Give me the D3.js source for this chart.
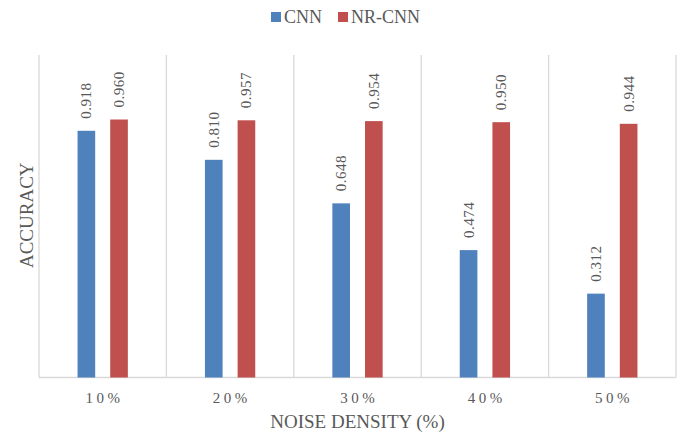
<!DOCTYPE html>
<html>
<head>
<meta charset="utf-8">
<script src="https://cdn.jsdelivr.net/npm/d3@7"></script>
<style>
  html, body { margin: 0; padding: 0; background: #fff; }
  svg { display: block; }
  text { font-family: "Liberation Serif", "Times New Roman", serif; fill: #595959; }
</style>
</head>
<body>
<svg id="chart" width="688" height="435"></svg>
<script>
const categories = ["10%", "20%", "30%", "40%", "50%"];
const seriesNames = ["CNN", "NR-CNN"];
const cnnValues = [0.918, 0.810, 0.648, 0.474, 0.312];
const nrcnnValues = [0.960, 0.957, 0.954, 0.950, 0.944];
const seriesColors = ["#4F81BD", "#C0504D"];

const svg = d3.select("#chart");
const plot = { left: 39, right: 676, top: 55, bottom: 377.5 };

const x = d3.scaleBand().domain(categories).range([plot.left, plot.right]).padding(0);
const xInner = d3.scaleBand().domain(seriesNames)
  .range([0, x.bandwidth()]).paddingInner(0.46).paddingOuter(1.18);
const y = d3.scaleLinear().domain([0, 1.2]).range([plot.bottom, plot.top]);

const data = categories.map((c, i) => ({
  cat: c,
  vals: [
    { s: seriesNames[0], v: cnnValues[i], color: seriesColors[0] },
    { s: seriesNames[1], v: nrcnnValues[i], color: seriesColors[1] }
  ]
}));

// vertical category separators
const edges = categories.map(c => x(c)).concat([plot.right]);
svg.append("g").selectAll("line").data(edges).join("line")
  .attr("x1", d => d).attr("x2", d => d)
  .attr("y1", plot.top).attr("y2", plot.bottom)
  .attr("stroke", "#d9d9d9").attr("stroke-width", 1.3);

// baseline
svg.append("line")
  .attr("x1", plot.left).attr("x2", plot.right)
  .attr("y1", plot.bottom).attr("y2", plot.bottom)
  .attr("stroke", "#d9d9d9").attr("stroke-width", 1.5);

// bars and value labels
const groups = svg.append("g").selectAll("g").data(data).join("g")
  .attr("transform", d => `translate(${x(d.cat)},0)`);

groups.selectAll("rect").data(d => d.vals).join("rect")
  .attr("x", d => xInner(d.s))
  .attr("width", xInner.bandwidth())
  .attr("y", d => y(d.v))
  .attr("height", d => y(0) - y(d.v))
  .attr("fill", d => d.color);

groups.selectAll("text").data(d => d.vals).join("text")
  .attr("transform", d => `translate(${xInner(d.s) + xInner.bandwidth() / 2 + 5},${y(d.v) - 12}) rotate(-90)`)
  .attr("text-anchor", "start")
  .attr("font-size", 15)
  .attr("letter-spacing", 0.5)
  .text(d => d.v.toFixed(3));

// category tick labels
const tickSpacing = 3.5;
svg.append("g").selectAll("text").data(categories).join("text")
  .attr("x", d => x(d) + x.bandwidth() / 2 + tickSpacing / 2)
  .attr("y", 403)
  .attr("text-anchor", "middle")
  .attr("font-size", 15)
  .attr("letter-spacing", tickSpacing)
  .text(d => d);

// axis titles
svg.append("text")
  .attr("x", (plot.left + plot.right) / 2)
  .attr("y", 428)
  .attr("text-anchor", "middle")
  .attr("font-size", 19)
  .text("NOISE DENSITY (%)");

svg.append("text")
  .attr("transform", `translate(33,${(plot.top + plot.bottom) / 2 - 1}) rotate(-90)`)
  .attr("text-anchor", "middle")
  .attr("font-size", 19)
  .text("ACCURACY");

// legend
const legend = svg.append("g");
const legendItems = [
  { name: seriesNames[0], color: seriesColors[0], x: 271 },
  { name: seriesNames[1], color: seriesColors[1], x: 338 }
];
legendItems.forEach(it => {
  legend.append("rect").attr("x", it.x).attr("y", 12).attr("width", 10).attr("height", 10).attr("fill", it.color);
  legend.append("text").attr("x", it.x + 13).attr("y", 23).attr("font-size", 18).text(it.name);
});
</script>
</body>
</html>
